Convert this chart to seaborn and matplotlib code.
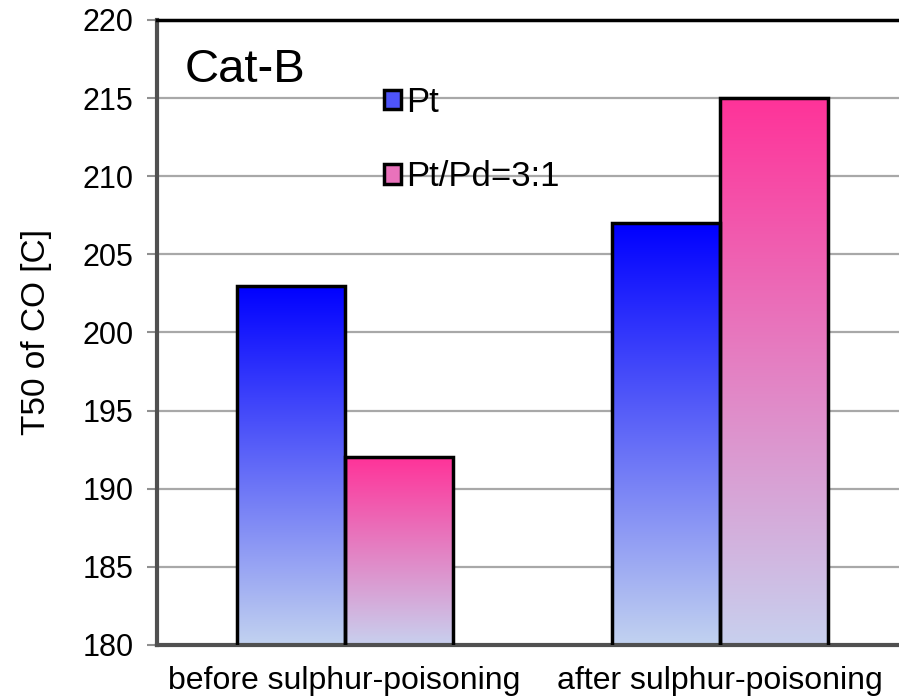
import numpy as np
import pandas as pd
import matplotlib
matplotlib.use("Agg")
import matplotlib.pyplot as plt
import seaborn as sns
from matplotlib.patches import Patch
from matplotlib.colors import LinearSegmentedColormap

# ---- data ----
stages = ["before sulphur-poisoning", "after sulphur-poisoning"]
catalysts = ["Pt", "Pt/Pd=3:1"]
pt_values = [203, 207]
ptpd_values = [192, 215]
y_ticks = [180, 185, 190, 195, 200, 205, 210, 215, 220]
panel_label = "Cat-B"
y_label = "T50 of CO [C]"

# gradient colours (top -> bottom)
grad_colors = {
    "Pt": ("#0000ff", "#c2d2f0"),
    "Pt/Pd=3:1": ("#ff3399", "#c8d0ee"),
}

df = pd.DataFrame({
    "stage": stages * 2,
    "catalyst": [catalysts[0]] * 2 + [catalysts[1]] * 2,
    "value": pt_values + ptpd_values,
})

sns.set_theme(style="white")
plt.rcParams["font.family"] = ["Liberation Sans", "DejaVu Sans"]
plt.rcParams["text.color"] = "black"

fig = plt.figure(figsize=(8.99, 7.0), dpi=100)
ax = fig.add_axes([157 / 899, 55 / 700, 750 / 899, 625 / 700])

sns.barplot(data=df, x="stage", y="value", hue="catalyst", order=stages,
            hue_order=catalysts, width=0.576, ax=ax, legend=False,
            edgecolor="black", linewidth=2.5, zorder=3)

# gradient fill for each bar
for cat, cont in zip(catalysts, ax.containers):
    top_c, bot_c = grad_colors[cat]
    cmap = LinearSegmentedColormap.from_list(cat, [bot_c, top_c])
    grad = np.linspace(0, 1, 256).reshape(-1, 1)
    for bar in cont:
        bar.set_facecolor("none")
        x0 = bar.get_x()
        w = bar.get_width()
        h = bar.get_y() + bar.get_height()
        im = ax.imshow(grad, cmap=cmap, origin="lower", aspect="auto",
                       extent=[x0, x0 + w, y_ticks[0], h], zorder=2.5,
                       interpolation="bilinear")
        im.set_clip_path(bar)
ax.set_xlim(-0.5, 1.5)
ax.set_ylim(y_ticks[0], y_ticks[-1])

ax.set_yticks(y_ticks)
ax.set_yticklabels([str(t) for t in y_ticks])
ax.yaxis.grid(True, color="#a8a8a8", linewidth=1.6, zorder=0)
ax.set_axisbelow(True)
ax.tick_params(axis="y", which="both", left=True, length=7, width=1.5,
               color="#909090", labelsize=22, pad=10, labelcolor="black")
ax.tick_params(axis="x", bottom=False, labelsize=23, pad=9, labelcolor="black")
ax.set_xlabel("")
ax.set_ylabel(y_label, fontsize=24, labelpad=22, color="black")

for side in ["left", "bottom"]:
    ax.spines[side].set_color("#505050")
    ax.spines[side].set_linewidth(3)
ax.spines["top"].set_color("black")
ax.spines["top"].set_linewidth(2.5)
ax.spines["right"].set_visible(False)

ax.text(0.037, 0.955, panel_label, transform=ax.transAxes, fontsize=34,
        va="top", ha="left", color="black")

handles = [Patch(facecolor=LinearSegmentedColormap.from_list(c, [grad_colors[c][1], grad_colors[c][0]])(0.6),
                 edgecolor="black", linewidth=2.5) for c in catalysts]
leg = ax.legend(handles, catalysts, loc="upper left", bbox_to_anchor=(0.284, 0.917),
                frameon=False, fontsize=25, handlelength=0.5, handleheight=0.5,
                handletextpad=0.15, labelspacing=1.2, borderaxespad=0)
for t in leg.get_texts():
    t.set_color("black")

fig.savefig("out.png", dpi=100)
